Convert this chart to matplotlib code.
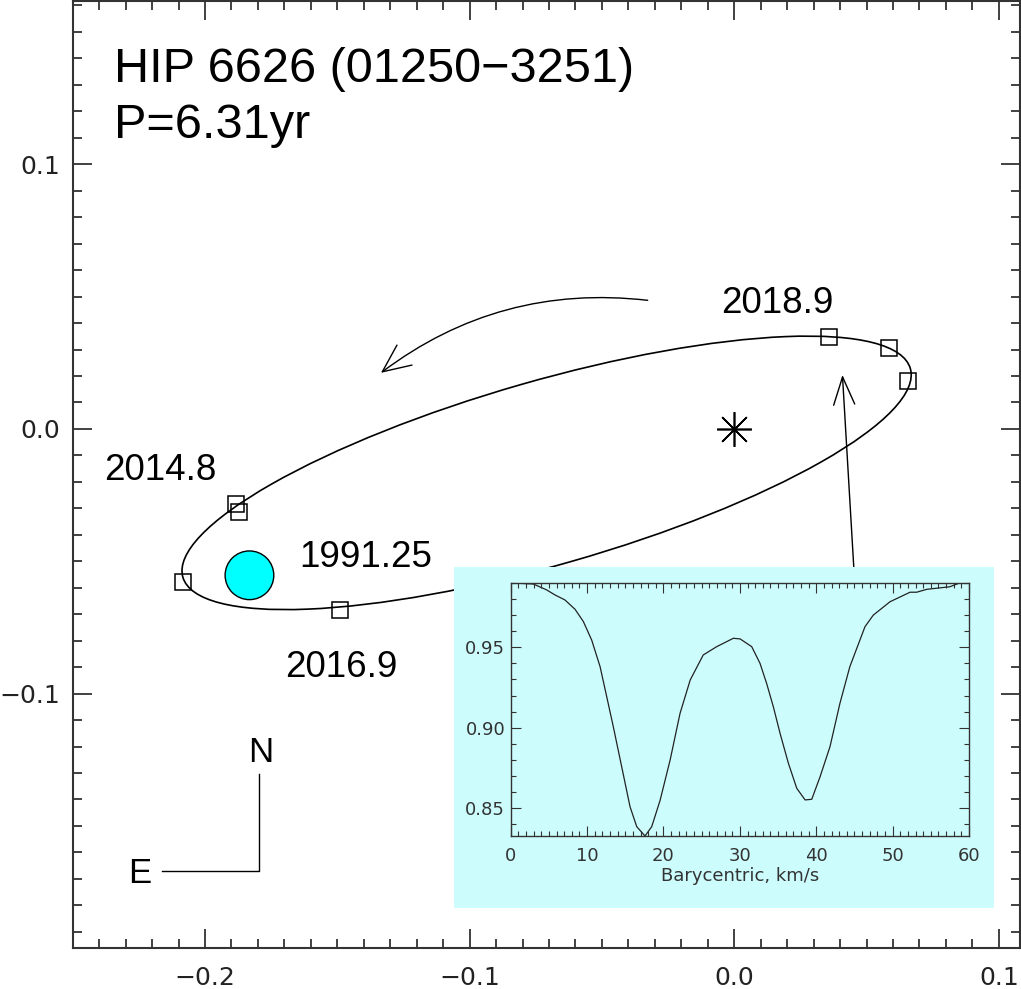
import numpy as np
import matplotlib
matplotlib.use("Agg")
import matplotlib.pyplot as plt
from matplotlib.patches import Ellipse, Circle, Rectangle, FancyArrowPatch
from matplotlib.ticker import MultipleLocator, FuncFormatter

plt.rcParams["font.family"] = ["Liberation Sans", "DejaVu Sans"]

# ------------------------------------------------------------
# Data
# ------------------------------------------------------------
# apparent orbit (center x, center y, full width, full height, angle deg)
orbit_center = (-0.0709, -0.0166)
orbit_width = 0.2860
orbit_height = 0.0695
orbit_angle = 16.0

# measured positions (squares)
obs_x = [0.0357, 0.0584, 0.0655, -0.1881, -0.1873, -0.2084, -0.1488]
obs_y = [0.0348, 0.0307, 0.0181, -0.0284, -0.0314, -0.0578, -0.0684]

# Hipparcos 1991.25 position
hip_pos = (-0.1832, -0.0553)
hip_radius = 0.0092

epoch_labels = ["2018.9", "2014.8", "1991.25", "2016.9"]
epoch_x = [-0.0051, -0.2383, -0.1645, -0.1698]
epoch_y = [0.0437, -0.0193, -0.0520, -0.0936]

title_lines = ["HIP 6626 (01250\u22123251)", "P=6.31yr"]

# CCF profile in the inset
ccf_v = [0.0, 2.97, 4.72, 5.8, 7.1, 8.42, 9.51, 10.6, 11.7, 12.57, 13.43,
         14.53, 15.62, 16.5, 17.58, 18.46, 19.56, 20.87, 22.17, 23.5, 25.2,
         26.97, 29.15, 30.03, 31.55, 32.64, 33.5, 34.38, 35.26, 36.35, 37.45,
         38.54, 39.41, 40.5, 41.8, 43.1, 44.4, 46.38, 47.47, 49.66, 52.28,
         53.15, 54.46, 57.5, 58.8]
ccf_f = [0.990, 0.9893, 0.9856, 0.9825, 0.9794, 0.9736, 0.966, 0.9545,
         0.938, 0.9193, 0.9007, 0.8758, 0.851, 0.8386, 0.8328, 0.8386, 0.855,
         0.880, 0.909, 0.9297, 0.9452, 0.9504, 0.9556, 0.9552, 0.9504, 0.940,
         0.9276, 0.9131, 0.8966, 0.878, 0.8624, 0.8552, 0.8556, 0.8696,
         0.8883, 0.9152, 0.938, 0.9628, 0.970, 0.9783, 0.9842, 0.9842, 0.986,
         0.9876, 0.990]

# ------------------------------------------------------------
# Figure
# ------------------------------------------------------------
fig = plt.figure(figsize=(10.21, 9.89), dpi=100)
ax = fig.add_axes([0.0712, 0.0418, 0.9278, 0.9572])
ax.set_xlim(-0.25, 0.108)
ax.set_ylim(-0.196, 0.1617)

spine_col = "#333333"
for s in ax.spines.values():
    s.set_linewidth(1.5)
    s.set_color(spine_col)

ax.xaxis.set_major_locator(MultipleLocator(0.1))
ax.xaxis.set_minor_locator(MultipleLocator(0.01))
ax.yaxis.set_major_locator(MultipleLocator(0.1))
ax.yaxis.set_minor_locator(MultipleLocator(0.01))
fmt = FuncFormatter(lambda v, p: f"{v:.1f}".replace("-", "\u2212")
                    if abs(v) > 1e-9 else "0.0")
ax.xaxis.set_major_formatter(fmt)
ax.yaxis.set_major_formatter(fmt)
ax.tick_params(which="both", direction="in", top=True, right=True,
               color=spine_col, width=1.3, labelsize=18,
               labelcolor="#222222")
ax.tick_params(which="major", length=13.5)
ax.tick_params(which="minor", length=6.8)
ax.tick_params(axis="x", pad=13)
ax.tick_params(axis="y", pad=9)
for t in ax.get_xticklabels() + ax.get_yticklabels():
    t.set_family("DejaVu Sans")

# orbit
ax.add_patch(Ellipse(orbit_center, orbit_width, orbit_height,
                     angle=orbit_angle, fill=False, ec="black", lw=1.2,
                     zorder=2))
ax.plot(obs_x, obs_y, ls="none", marker="s", ms=12, mfc="none",
        mec="black", mew=1.1, zorder=3)
ax.add_patch(Circle(hip_pos, hip_radius, fc="#00ffff", ec="black", lw=1.0,
                    zorder=3))
# primary star
ax.plot([0.0], [0.0], marker=(8, 2, 0), ms=25, mew=1.2, color="black",
        zorder=3)

# texts
ax.text(-0.2345, 0.1311, title_lines[0], fontsize=35, ha="left",
        va="baseline")
ax.text(-0.2345, 0.1098, title_lines[1], fontsize=35, ha="left",
        va="baseline")
for lab, x, y in zip(epoch_labels, epoch_x, epoch_y):
    ax.text(x, y, lab, fontsize=26.5, ha="left", va="baseline")

# direction of motion arrow
ax.add_patch(FancyArrowPatch((-0.0327, 0.0486), (-0.1335, 0.0212),
                             connectionstyle="arc3,rad=0.2",
                             arrowstyle="->,head_length=1.0,head_width=0.45",
                             mutation_scale=20, lw=1.0, color="black",
                             shrinkA=0, shrinkB=0))
# pointer from inset to orbit
ax.add_patch(FancyArrowPatch((0.0452, -0.0524), (0.0409, 0.0204),
                             arrowstyle="->,head_length=1.0,head_width=0.38",
                             mutation_scale=20, lw=1.0, color="black",
                             shrinkA=0, shrinkB=0, zorder=2))

# compass
ax.plot([-0.2163, -0.1796, -0.1796], [-0.1672, -0.1672, -0.1304],
        color="black", lw=1.0)
ax.text(-0.1789, -0.1257, "N", fontsize=25, ha="center", va="baseline")
ax.text(-0.2291, -0.1716, "E", fontsize=25, ha="left", va="baseline")

# inset background
inset_bg = "#ccfcfc"
ax.add_patch(Rectangle((-0.1060, -0.1810), 0.2040, 0.1290, fc=inset_bg,
                       ec="none", zorder=4))

# ------------------------------------------------------------
# Inset: CCF
# ------------------------------------------------------------
ins = fig.add_axes([0.5002, 0.1547, 0.4489, 0.2561])
ins.set_facecolor(inset_bg)
ins.plot(ccf_v, ccf_f, color="#222222", lw=0.9)
ins.set_xlim(0, 60)
ins.set_ylim(0.8328, 0.9901)
icol = "#333333"
for s in ins.spines.values():
    s.set_linewidth(1.0)
    s.set_color(icol)
ins.xaxis.set_major_locator(MultipleLocator(10))
ins.xaxis.set_minor_locator(MultipleLocator(1))
ins.yaxis.set_major_locator(MultipleLocator(0.05))
ins.yaxis.set_minor_locator(MultipleLocator(0.01))
ins.yaxis.set_major_formatter(FuncFormatter(lambda v, p: f"{v:.2f}"))
ins.tick_params(which="both", direction="in", top=True, right=True,
                color=icol, width=0.8, labelsize=13, labelcolor="#333333")
ins.tick_params(which="major", length=7)
ins.tick_params(which="minor", length=3.5)
ins.tick_params(axis="x", pad=8)
ins.tick_params(axis="y", pad=4)
for t in ins.get_xticklabels() + ins.get_yticklabels():
    t.set_family("DejaVu Sans")
ins.set_xlabel("Barycentric, km/s", fontsize=13, color="#333333",
               family="DejaVu Sans", labelpad=1)

fig.savefig("out.png", dpi=100)
